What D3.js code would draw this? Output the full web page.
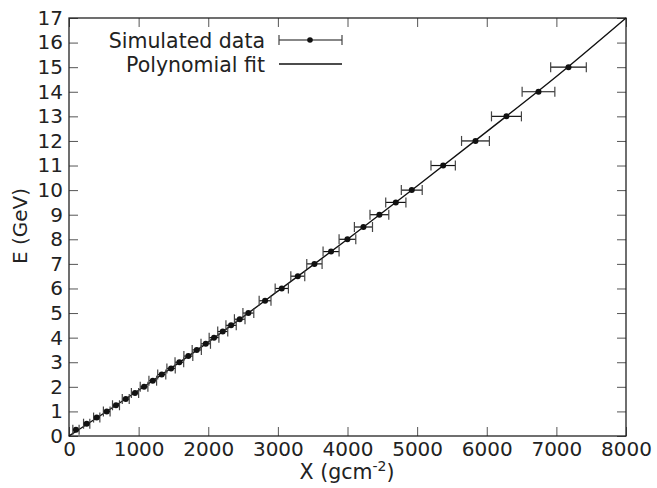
<!DOCTYPE html>
<html>
<head>
<meta charset="utf-8">
<script src="https://cdn.jsdelivr.net/npm/d3@7"></script>
<style>
  body { margin: 0; background: #fff; }
  text { font-family: "DejaVu Sans", sans-serif; fill: #222; }
</style>
</head>
<body>
<svg id="chart"></svg>
<script>
// Simulated data: energy vs depth
const energy = [0.25, 0.5, 0.75, 1, 1.25, 1.5, 1.75, 2, 2.25, 2.5, 2.75, 3, 3.25, 3.5, 3.75, 4, 4.25, 4.5, 4.75, 5,
  5.5, 6, 6.5, 7, 7.5, 8, 8.5, 9, 9.5, 10, 11, 12, 13, 14, 15];
const depth = [100, 254, 398, 542, 675, 815, 948, 1078, 1203, 1332, 1466, 1585, 1714, 1835, 1964, 2083, 2208, 2328, 2452, 2576,
  2816, 3056, 3286, 3525, 3764, 3999, 4229, 4458, 4694, 4923, 5374, 5838, 6283, 6743, 7174];
const depthErr = [45, 45, 45, 48, 50, 50, 52, 55, 55, 58, 60, 62, 64, 66, 68, 70, 72, 74, 76, 78,
  85, 95, 100, 110, 115, 120, 130, 135, 145, 150, 175, 200, 215, 235, 256];

// Polynomial fit
const fitX = [0, 1000, 2000, 3000, 4000, 5000, 6000, 7000, 8000];
const fitE = [0, 1.86, 3.82, 5.89, 8.0, 10.17, 12.38, 14.62, 17];

const xTicks = [0, 1000, 2000, 3000, 4000, 5000, 6000, 7000, 8000];
const yTicks = d3.range(0, 18);

// Set size
const W = 657, H = 488;
const margin = {top: 18, right: 31, bottom: 52, left: 69};
const width = W - margin.left - margin.right;
const height = H - margin.top - margin.bottom;

const svg = d3.select('#chart')
  .attr('width', W)
  .attr('height', H);

const g = svg.append('g')
  .attr('transform', `translate(${margin.left},${margin.top})`);

const x = d3.scaleLinear().domain([0, 8000]).range([0, width]);
const y = d3.scaleLinear().domain([0, 17]).range([height, 0]);
const fmt = d3.format('d');

// Axes, ticks pointing inward
const styleAxis = sel => {
  sel.select('.domain').remove();
  sel.selectAll('.tick line').attr('stroke', '#555').attr('stroke-width', 1);
  sel.selectAll('.tick text').style('font-size', '20px').attr('fill', '#222');
};

g.append('g')
  .attr('transform', `translate(0,${height})`)
  .call(d3.axisBottom(x).tickValues(xTicks).tickFormat(fmt).tickSizeInner(-9).tickSizeOuter(0).tickPadding(6))
  .call(styleAxis);

g.append('g')
  .call(d3.axisTop(x).tickValues(xTicks).tickSizeInner(-9).tickSizeOuter(0).tickFormat(''))
  .call(styleAxis);

g.append('g')
  .call(d3.axisLeft(y).tickValues(yTicks).tickFormat(fmt).tickSizeInner(-9).tickSizeOuter(0).tickPadding(6))
  .call(styleAxis);

g.append('g')
  .attr('transform', `translate(${width},0)`)
  .call(d3.axisRight(y).tickValues(yTicks).tickSizeInner(-9).tickSizeOuter(0).tickFormat(''))
  .call(styleAxis);

// Frame
g.append('rect')
  .attr('width', width)
  .attr('height', height)
  .attr('fill', 'none')
  .attr('stroke', '#222')
  .attr('stroke-width', 1.3);

// Fit line
const line = d3.line()
  .x(i => x(fitX[i]))
  .y(i => y(fitE[i]))
  .curve(d3.curveMonotoneX);

g.append('path')
  .attr('d', line(d3.range(fitX.length)))
  .attr('fill', 'none')
  .attr('stroke', '#111')
  .attr('stroke-width', 1.4);

// Error bars
const pts = g.append('g').selectAll('g')
  .data(d3.range(energy.length))
  .enter()
  .append('g');

pts.append('line')
  .attr('x1', i => x(depth[i] - depthErr[i]))
  .attr('x2', i => x(depth[i] + depthErr[i]))
  .attr('y1', i => y(energy[i]))
  .attr('y2', i => y(energy[i]))
  .attr('stroke', '#111')
  .attr('stroke-width', 1.2);

[-1, 1].forEach(s => {
  pts.append('line')
    .attr('x1', i => x(depth[i] + s * depthErr[i]))
    .attr('x2', i => x(depth[i] + s * depthErr[i]))
    .attr('y1', i => y(energy[i]) - 5)
    .attr('y2', i => y(energy[i]) + 5)
    .attr('stroke', '#444')
    .attr('stroke-width', 1.2);
});

pts.append('circle')
  .attr('cx', i => x(depth[i]))
  .attr('cy', i => y(energy[i]))
  .attr('r', 3)
  .attr('fill', '#111');

// Legend
const legend = svg.append('g');
legend.append('text')
  .attr('x', 265).attr('y', 48)
  .attr('text-anchor', 'end')
  .style('font-size', '20.5px')
  .text('Simulated data');
legend.append('text')
  .attr('x', 265).attr('y', 72)
  .attr('text-anchor', 'end')
  .style('font-size', '20.5px')
  .text('Polynomial fit');

legend.append('line')
  .attr('x1', 279).attr('x2', 342).attr('y1', 40).attr('y2', 40)
  .attr('stroke', '#111').attr('stroke-width', 1.2);
[279, 342].forEach(cx => {
  legend.append('line')
    .attr('x1', cx).attr('x2', cx).attr('y1', 35).attr('y2', 45)
    .attr('stroke', '#444').attr('stroke-width', 1.2);
});
legend.append('circle')
  .attr('cx', 310).attr('cy', 40).attr('r', 2.8).attr('fill', '#111');
legend.append('line')
  .attr('x1', 279).attr('x2', 342).attr('y1', 64).attr('y2', 64)
  .attr('stroke', '#111').attr('stroke-width', 1.4);

// Axis titles
svg.append('text')
  .attr('transform', 'translate(27,226) rotate(-90)')
  .attr('text-anchor', 'middle')
  .style('font-size', '20px')
  .text('E (GeV)');

const xt = svg.append('text')
  .attr('x', 347).attr('y', 479)
  .attr('text-anchor', 'middle')
  .style('font-size', '20.5px');
xt.append('tspan').text('X (gcm');
xt.append('tspan').attr('dy', -8).style('font-size', '14px').text('-2');
xt.append('tspan').attr('dy', 8).text(')');
</script>
</body>
</html>
